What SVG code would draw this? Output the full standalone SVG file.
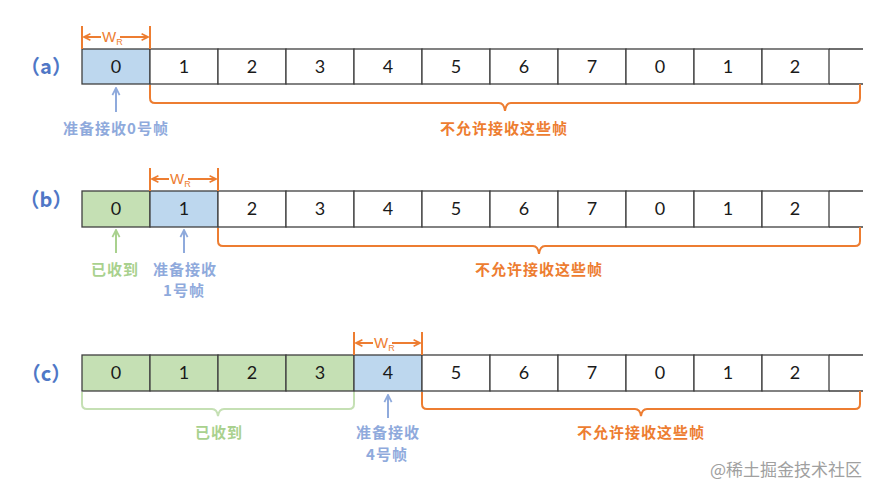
<svg xmlns="http://www.w3.org/2000/svg" width="880" height="497" viewBox="0 0 880 497">
<defs>
<style>
.cell{fill:#fff;stroke:#3f3f3f;stroke-width:1.3}
.gc{fill:#C5E0B4}
.bc{fill:#BDD7EE}
.edge{stroke:#3f3f3f;stroke-width:1.3;fill:none}
.num{font-family:Lato,"Open Sans","Liberation Sans",sans-serif;font-size:18px;fill:#1a1a1a;text-anchor:middle}
.tag{font-family:"Noto Sans CJK SC","Liberation Sans",sans-serif;font-size:20px;font-weight:700;fill:#4F77C6;text-anchor:middle}
.lbl{font-family:"Noto Sans CJK SC",sans-serif;font-size:15px;font-weight:700;text-anchor:middle;letter-spacing:1px}
.or{fill:#ED7D31}
.bl{fill:#8FAADC}
.gr{fill:#A9D18E}
.obr{fill:none;stroke:#ED7D31;stroke-width:2}
.gbr{fill:none;stroke:#C5E0B4;stroke-width:2}
.wr{stroke:#ED7D31;stroke-width:2;fill:none}
.wt{font-family:"Liberation Sans",sans-serif;font-size:15px;fill:#ED7D31}
.ua{stroke-width:2;fill:none}
.wm{font-family:"Noto Sans CJK SC",sans-serif;font-size:17px;fill:#a0a0a0;text-anchor:end}
</style>
<marker id="mo" viewBox="0 0 10 10" refX="9" refY="5" markerWidth="8" markerHeight="10" markerUnits="userSpaceOnUse" orient="auto"><path d="M1,1 L9,5 L1,9" fill="none" stroke="#ED7D31" stroke-width="2"/></marker>
<marker id="mb" viewBox="0 0 10 10" refX="9" refY="5" markerWidth="9" markerHeight="11" markerUnits="userSpaceOnUse" orient="auto"><path d="M1,1 L9,5 L1,9" fill="none" stroke="#8FAADC" stroke-width="2"/></marker>
<marker id="mg" viewBox="0 0 10 10" refX="9" refY="5" markerWidth="9" markerHeight="11" markerUnits="userSpaceOnUse" orient="auto"><path d="M1,1 L9,5 L1,9" fill="none" stroke="#A9D18E" stroke-width="2"/></marker>
</defs>
<rect width="880" height="497" fill="#fff"/>

<!-- Row (a) -->
<g id="row-a">
<text class="tag" x="46" y="74">（a）</text>
<g id="a0"><rect class="cell bc" x="82" y="49" width="68" height="35"/><text class="num" x="116" y="73">0</text></g>
<g id="a1"><rect class="cell" x="150" y="49" width="68" height="35"/><text class="num" x="184" y="73">1</text></g>
<g id="a2"><rect class="cell" x="218" y="49" width="68" height="35"/><text class="num" x="252" y="73">2</text></g>
<g id="a3"><rect class="cell" x="286" y="49" width="68" height="35"/><text class="num" x="320" y="73">3</text></g>
<g id="a4"><rect class="cell" x="354" y="49" width="68" height="35"/><text class="num" x="388" y="73">4</text></g>
<g id="a5"><rect class="cell" x="422" y="49" width="68" height="35"/><text class="num" x="456" y="73">5</text></g>
<g id="a6"><rect class="cell" x="490" y="49" width="68" height="35"/><text class="num" x="524" y="73">6</text></g>
<g id="a7"><rect class="cell" x="558" y="49" width="68" height="35"/><text class="num" x="592" y="73">7</text></g>
<g id="a8"><rect class="cell" x="626" y="49" width="68" height="35"/><text class="num" x="660" y="73">0</text></g>
<g id="a9"><rect class="cell" x="694" y="49" width="68" height="35"/><text class="num" x="728" y="73">1</text></g>
<g id="a10"><rect class="cell" x="762" y="49" width="67" height="35"/><text class="num" x="795" y="73">2</text></g>
<g id="a11"><path class="edge" d="M829,49 H863 M829,84 H863"/></g>
<g id="a-lbl1"><text class="lbl bl" x="116" y="134">准备接收0号帧</text></g>
<g id="a-lbl2"><text class="lbl or" x="504" y="134">不允许接收这些帧</text></g>
</g>

<!-- Row (b) -->
<g id="row-b">
<text class="tag" x="46" y="207">（b）</text>
<g id="b0"><rect class="cell gc" x="82" y="191" width="68" height="36"/><text class="num" x="116" y="215">0</text></g>
<g id="b1"><rect class="cell bc" x="150" y="191" width="68" height="36"/><text class="num" x="184" y="215">1</text></g>
<g id="b2"><rect class="cell" x="218" y="191" width="68" height="36"/><text class="num" x="252" y="215">2</text></g>
<g id="b3"><rect class="cell" x="286" y="191" width="68" height="36"/><text class="num" x="320" y="215">3</text></g>
<g id="b4"><rect class="cell" x="354" y="191" width="68" height="36"/><text class="num" x="388" y="215">4</text></g>
<g id="b5"><rect class="cell" x="422" y="191" width="68" height="36"/><text class="num" x="456" y="215">5</text></g>
<g id="b6"><rect class="cell" x="490" y="191" width="68" height="36"/><text class="num" x="524" y="215">6</text></g>
<g id="b7"><rect class="cell" x="558" y="191" width="68" height="36"/><text class="num" x="592" y="215">7</text></g>
<g id="b8"><rect class="cell" x="626" y="191" width="68" height="36"/><text class="num" x="660" y="215">0</text></g>
<g id="b9"><rect class="cell" x="694" y="191" width="68" height="36"/><text class="num" x="728" y="215">1</text></g>
<g id="b10"><rect class="cell" x="762" y="191" width="67" height="36"/><text class="num" x="795" y="215">2</text></g>
<g id="b11"><path class="edge" d="M829,191 H863 M829,227 H863"/></g>
<g id="b-lbl1"><text class="lbl gr" x="115" y="275">已收到</text></g>
<g id="b-lbl2"><text class="lbl bl" x="185" y="275">准备接收</text><text class="lbl bl" x="184" y="296">1号帧</text></g>
<g id="b-lbl3"><text class="lbl or" x="539" y="275">不允许接收这些帧</text></g>
</g>

<!-- Row (c) -->
<g id="row-c">
<text class="tag" x="46" y="381">（c）</text>
<g id="c0"><rect class="cell gc" x="82" y="355" width="68" height="36"/><text class="num" x="116" y="379">0</text></g>
<g id="c1"><rect class="cell gc" x="150" y="355" width="68" height="36"/><text class="num" x="184" y="379">1</text></g>
<g id="c2"><rect class="cell gc" x="218" y="355" width="68" height="36"/><text class="num" x="252" y="379">2</text></g>
<g id="c3"><rect class="cell gc" x="286" y="355" width="68" height="36"/><text class="num" x="320" y="379">3</text></g>
<g id="c4"><rect class="cell bc" x="354" y="355" width="68" height="36"/><text class="num" x="388" y="379">4</text></g>
<g id="c5"><rect class="cell" x="422" y="355" width="68" height="36"/><text class="num" x="456" y="379">5</text></g>
<g id="c6"><rect class="cell" x="490" y="355" width="68" height="36"/><text class="num" x="524" y="379">6</text></g>
<g id="c7"><rect class="cell" x="558" y="355" width="68" height="36"/><text class="num" x="592" y="379">7</text></g>
<g id="c8"><rect class="cell" x="626" y="355" width="68" height="36"/><text class="num" x="660" y="379">0</text></g>
<g id="c9"><rect class="cell" x="694" y="355" width="68" height="36"/><text class="num" x="728" y="379">1</text></g>
<g id="c10"><rect class="cell" x="762" y="355" width="67" height="36"/><text class="num" x="795" y="379">2</text></g>
<g id="c11"><path class="edge" d="M829,355 H863 M829,391 H863"/></g>
<g id="c-lbl1"><text class="lbl gr" x="219" y="438">已收到</text></g>
<g id="c-lbl2"><text class="lbl bl" x="388" y="438">准备接收</text><text class="lbl bl" x="387" y="460">4号帧</text></g>
<g id="c-lbl3"><text class="lbl or" x="641" y="438">不允许接收这些帧</text></g>
</g>

<!-- Window W_R markers -->
<g id="wr-a">
<path class="wr" d="M82,26 V49 M150,26 V49"/>
<line class="wr" x1="101" y1="37" x2="84" y2="37" marker-end="url(#mo)"/>
<line class="wr" x1="120" y1="37" x2="148" y2="37" marker-end="url(#mo)"/>
<text class="wt" x="102" y="42">W<tspan font-size="9" dy="3">R</tspan></text>
</g>
<g id="wr-b">
<path class="wr" d="M150,168 V191 M218,168 V191"/>
<line class="wr" x1="169" y1="179" x2="152" y2="179" marker-end="url(#mo)"/>
<line class="wr" x1="188" y1="179" x2="216" y2="179" marker-end="url(#mo)"/>
<text class="wt" x="170" y="184">W<tspan font-size="9" dy="3">R</tspan></text>
</g>
<g id="wr-c">
<path class="wr" d="M354,332 V355 M422,332 V355"/>
<line class="wr" x1="373" y1="343" x2="356" y2="343" marker-end="url(#mo)"/>
<line class="wr" x1="392" y1="343" x2="420" y2="343" marker-end="url(#mo)"/>
<text class="wt" x="374" y="348">W<tspan font-size="9" dy="3">R</tspan></text>
</g>

<!-- Connectors: braces and arrows -->
<g id="connectors">
<path class="obr" d="M150,85 V98 Q150,103 155,103 H499 Q504,103 505,111 Q506,103 511,103 H855 Q860,103 860,98 V84"/>
<path class="obr" d="M218,228 V241 Q218,246 223,246 H533 Q538,246 539,254 Q540,246 545,246 H855 Q860,246 860,241 V227"/>
<path class="obr" d="M422,392 V404 Q422,409 427,409 H635 Q640,409 641,416 Q642,409 647,409 H855 Q860,409 860,404 V391"/>
<path class="gbr" d="M82,392 V404 Q82,409 87,409 H212 Q217,409 218,416 Q219,409 224,409 H349 Q354,409 354,404 V392"/>
<line class="ua" stroke="#8FAADC" x1="116" y1="112" x2="116" y2="88" marker-end="url(#mb)"/>
<line class="ua" stroke="#A9D18E" x1="116" y1="253" x2="116" y2="230" marker-end="url(#mg)"/>
<line class="ua" stroke="#8FAADC" x1="184" y1="253" x2="184" y2="230" marker-end="url(#mb)"/>
<line class="ua" stroke="#8FAADC" x1="388" y1="418" x2="388" y2="395" marker-end="url(#mb)"/>
</g>

<text class="wm" x="862" y="476">@稀土掘金技术社区</text>
</svg>
